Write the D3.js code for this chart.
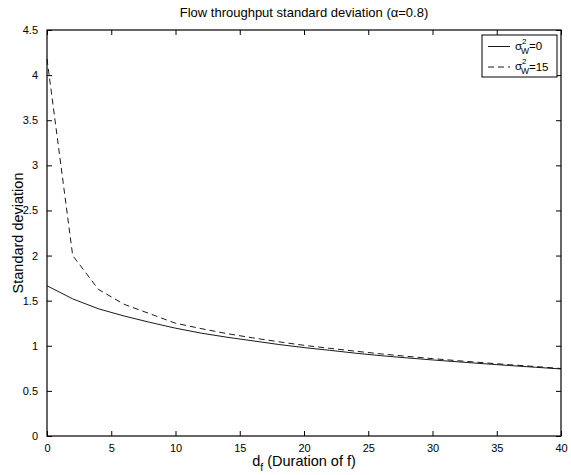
<!DOCTYPE html>
<html>
<head>
<meta charset="utf-8">
<script src="https://cdn.jsdelivr.net/npm/d3@7"></script>
<style>
  html, body { margin: 0; padding: 0; background: #fff; }
  svg { display: block; font-family: "Liberation Sans", Arial, Helvetica, sans-serif; }
</style>
</head>
<body>
<svg id="chart" width="571" height="475"></svg>
<script>
// ---- data ----
const durations = [0, 2, 4, 6, 8, 10, 12, 14, 16, 18, 20, 22, 24, 26, 28, 30, 32, 34, 36, 38, 40];
const sdVar0  = [1.665, 1.52, 1.41, 1.33, 1.26, 1.195, 1.14, 1.095, 1.055, 1.015, 0.98, 0.95, 0.918, 0.89, 0.866, 0.843, 0.822, 0.801, 0.781, 0.762, 0.743];
const sdVar15 = [4.18, 2.0, 1.625, 1.46, 1.355, 1.25, 1.19, 1.135, 1.088, 1.045, 1.005, 0.972, 0.94, 0.91, 0.883, 0.858, 0.834, 0.812, 0.79, 0.77, 0.748];
const xTicks = [0, 5, 10, 15, 20, 25, 30, 35, 40];
const yTicks = [0, 0.5, 1, 1.5, 2, 2.5, 3, 3.5, 4, 4.5];
const seriesNames = ["0", "15"];

const svg = d3.select("#chart");
const L = 47, R = 561, T = 30, B = 436;
const x = d3.scaleLinear().domain([0, 40]).range([L, R]);
const y = d3.scaleLinear().domain([0, 4.5]).range([B, T]);

const tickLen = 5;
// axes with inward ticks
const gx = svg.append("g").attr("transform", `translate(0,${B})`)
  .call(d3.axisBottom(x).tickValues(xTicks).tickSize(-tickLen).tickPadding(tickLen + 3).tickFormat(d3.format("")));
const gy = svg.append("g").attr("transform", `translate(${L},0)`)
  .call(d3.axisLeft(y).tickValues(yTicks).tickSize(-tickLen).tickPadding(tickLen + 4).tickFormat(d3.format("")));
const gxt = svg.append("g").attr("transform", `translate(0,${T})`)
  .call(d3.axisTop(x).tickValues(xTicks).tickSize(-tickLen).tickFormat(""));
const gyr = svg.append("g").attr("transform", `translate(${R},0)`)
  .call(d3.axisRight(y).tickValues(yTicks).tickSize(-tickLen).tickFormat(""));
[gx, gy, gxt, gyr].forEach(g => {
  g.select(".domain").remove();
  g.selectAll("line").attr("stroke", "#000").attr("stroke-width", 1);
  g.selectAll("text").attr("font-size", 11).attr("fill", "#000")
    .attr("font-family", "'Liberation Sans', Arial, sans-serif");
});
// box
svg.append("rect").attr("x", L).attr("y", T).attr("width", R - L).attr("height", B - T)
  .attr("fill", "none").attr("stroke", "#000").attr("stroke-width", 1.2);

// lines
const line = d3.line().x((d, i) => x(durations[i])).y(d => y(d));
svg.append("path").datum(sdVar0).attr("d", line)
  .attr("fill", "none").attr("stroke", "#000").attr("stroke-width", 0.9);
svg.append("path").datum(sdVar15).attr("d", line)
  .attr("fill", "none").attr("stroke", "#000").attr("stroke-width", 0.9).attr("stroke-dasharray", "6,4");

// title
svg.append("text").attr("x", (L + R) / 2).attr("y", 17).attr("text-anchor", "middle")
  .attr("font-size", 13).text("Flow throughput standard deviation (α=0.8)");

// y label
svg.append("text").attr("transform", `translate(23,${(T + B) / 2}) rotate(-90)`)
  .attr("text-anchor", "middle").attr("font-size", 14.5).text("Standard deviation");

// x label with subscript
const xl = svg.append("text").attr("x", (L + R) / 2).attr("y", 466).attr("text-anchor", "middle")
  .attr("font-size", 14.5);
xl.append("tspan").text("d");
xl.append("tspan").attr("font-size", 10.5).attr("dy", 5).text("f");
xl.append("tspan").attr("dy", -5).text(" (Duration of f)");

// legend
const lg = svg.append("g");
lg.append("rect").attr("x", 482).attr("y", 35).attr("width", 75).attr("height", 42)
  .attr("fill", "#fff").attr("stroke", "#000").attr("stroke-width", 1);
const rows = [46.5, 67];
seriesNames.forEach((name, i) => {
  const ry = rows[i];
  lg.append("line").attr("x1", 488).attr("x2", 510).attr("y1", ry).attr("y2", ry)
    .attr("stroke", "#000").attr("stroke-width", 0.9)
    .attr("stroke-dasharray", i === 1 ? "6,4" : null);
  lg.append("text").attr("x", 515).attr("y", ry + 3).attr("font-size", 11.5).text("σ");
  lg.append("text").attr("x", 522).attr("y", ry - 3).attr("font-size", 8).text("2");
  lg.append("text").attr("x", 521).attr("y", ry + 7).attr("font-size", 8.5).text("W");
  lg.append("text").attr("x", 529).attr("y", ry + 3.5).attr("font-size", 11.5).text("=" + name);
});
</script>
</body>
</html>
